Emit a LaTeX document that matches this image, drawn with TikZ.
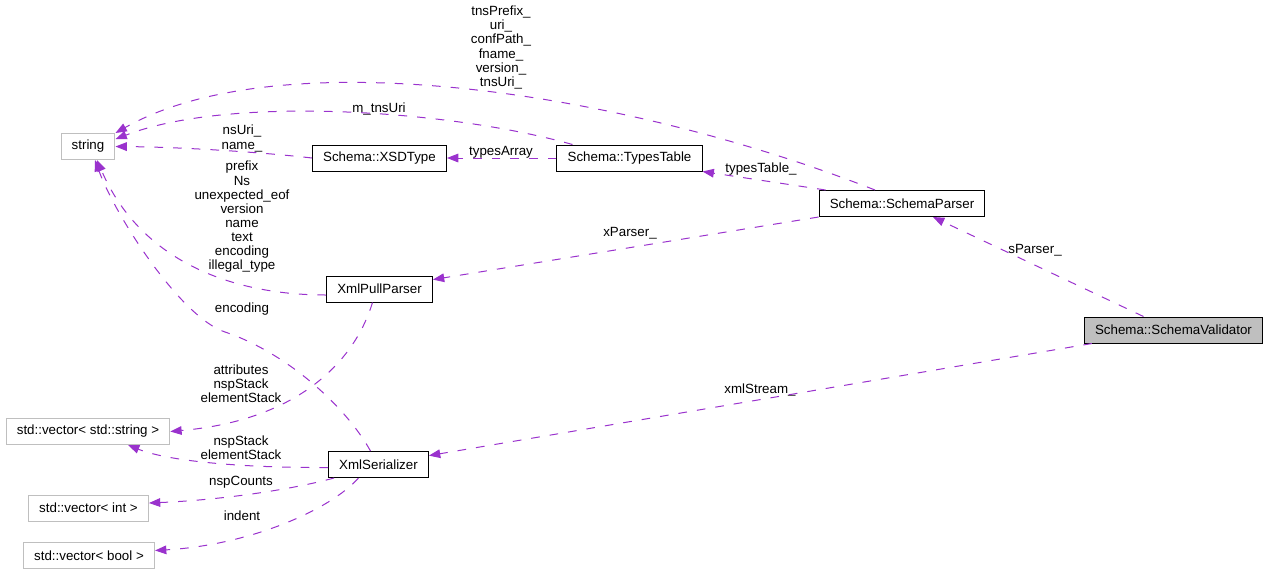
\documentclass[tikz,border=0pt]{standalone}
\usepackage{fontspec}
\setmainfont{Liberation Sans}
\usepackage{tikz}
\usetikzlibrary{calc}
\usetikzlibrary{arrows.meta}
\definecolor{edgecol}{HTML}{9A32CD}
\definecolor{grayline}{HTML}{BFBFBF}
\tikzset{>={Triangle[length=8.5pt,width=6.5pt]}}
\tikzset{
  cls/.style={draw=black, line width=0.75pt, inner xsep=8pt, inner ysep=0pt,
    minimum height=19.5pt, font=\fontsize{10}{12}\selectfont},
  ext/.style={cls, draw=grayline},
  uses/.style={->, draw=edgecol, line width=0.75pt, dash pattern=on 6.5pt off 7.5pt},
  lbl/.style={inner sep=0pt, align=center, font=\fontsize{10}{10.6}\selectfont}
}

\begin{document}
\begin{tikzpicture}[x=0.75pt, y=-0.75pt]
    \useasboundingbox (0,0) rectangle (1267,572);
    % classes
    \node[ext] (string) at (88,146.5) {string};
    \node[cls] (xsd) at (379.5,158) {Schema::XSDType};
    \node[cls] (ttable) at (629.5,158) {Schema::TypesTable};
    \node[cls] (sparser) at (902,203.5) {Schema::SchemaParser};
    \node[cls, fill=grayline] (svalid) at (1173.5,330) {Schema::SchemaValidator};
    \node[cls] (xpp) at (379.5,289) {XmlPullParser};
    \node[cls] (xser) at (378.5,464.5) {XmlSerializer};
    \node[ext] (vecstr) at (88,431.5) {std::vector< std::string >};
    \node[ext] (vecint) at (88.5,508) {std::vector< int >};
    \node[ext] (vecbool) at (89,555.5) {std::vector< bool >};
    % member names
    \node[lbl] (lbltns) at (501,47.5) {tnsPrefix\_\\uri\_\\confPath\_\\fname\_\\version\_\\tnsUri\_};
    \node[lbl] (lblmtns) at (379,109) {m\_tnsUri};
    \node[lbl] (lblnsuri) at (242,138.5) {nsUri\_\\name\_};
    \node[lbl] (lbltarr) at (501,152) {typesArray};
    \node[lbl] (lblttab) at (761,169) {typesTable\_};
    \node[lbl] (lblxpar) at (630,233) {xParser\_};
    \node[lbl] (lblspar) at (1035,250) {sParser\_};
    \node[lbl] (lblxstr) at (760,390) {xmlStream\_};
    \node[lbl] (lblpref) at (242,217) {prefix\\Ns\\unexpected\_eof\\version\\name\\text\\encoding\\illegal\_type};
    \node[lbl] (lblenc) at (242,309) {encoding};
    \node[lbl] (lblattr) at (241,384) {attributes\\nspStack\\elementStack};
    \node[lbl] (lblnsp) at (241,448) {nspStack\\elementStack};
    \node[lbl] (lblcnt) at (241,482) {nspCounts};
    \node[lbl] (lblind) at (242,516) {indent};
    % usage edges
    \draw[uses] ($(sparser.north)+(-27,0)$) .. controls (620,90) and (280,40) .. (string.north east);
    \draw[uses] ($(ttable.north west)+(16,0)$) .. controls (450,110) and (230,95) .. (string.15);
    \draw[uses] (xsd.west) .. controls (260,152) and (180,147) .. (string.east);
    \draw[uses] (ttable.west) -- (xsd.east);
    \draw[uses] ($(sparser.north west)+(7,0)$) -- (ttable.south east);
    \draw[uses] (sparser.south west) -- (xpp.10);
    \draw[uses] ($(svalid.north)+(-30,0)$) -- ($(sparser.south)+(31,0)$);
    \draw[uses] ($(svalid.south west)+(8,0)$) -- (xser.10);
    \draw[uses] ($(xpp.west)+(0,6)$) .. controls (230,295) and (140,260) .. ($(string.south)+(9,0)$);
    \draw[uses] ($(xser.north)+(-8,0)$) .. controls (345,405) and (285,352) .. (225,332)
        .. controls (180,317) and (115,215) .. ($(string.south)+(7,0)$);
    \draw[uses] ($(xpp.south)+(-7,0)$) .. controls (355,360) and (300,420) .. (vecstr.east);
    \draw[uses] ($(xser.west)+(0,3)$) .. controls (250,468) and (170,462) .. ($(vecstr.south)+(40,0)$);
    \draw[uses] ($(xser.south west)+(6,0)$) .. controls (290,490) and (220,500) .. ($(vecint.east)+(0,-5)$);
    \draw[uses] ($(xser.south)+(-20,0)$) .. controls (330,510) and (250,545) .. ($(vecbool.east)+(0,-5)$);
\end{tikzpicture}
\end{document}
